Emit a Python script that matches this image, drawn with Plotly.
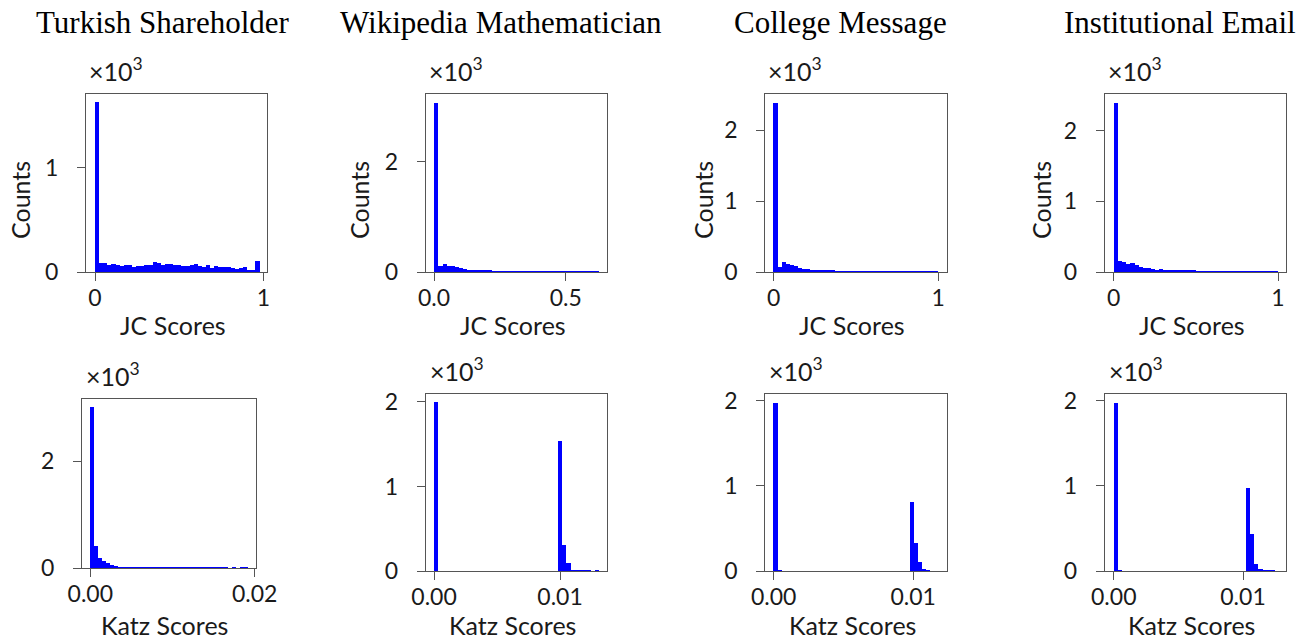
import numpy as np
import plotly.graph_objects as go

# ---------------- data ----------------
dataset_titles = ["Turkish Shareholder", "Wikipedia Mathematician", "College Message", "Institutional Email"]

# JC score histograms (40 bins each)
jc_bin_range = [[0.0, 0.978], [0.0, 0.627], [0.0, 1.0], [0.0, 1.0]]
jc_turkish = [1623, 85, 80, 62, 70, 65, 51, 67, 60, 45, 51, 51, 64, 64, 96, 83, 61, 77, 77, 67,
              67, 58, 58, 67, 77, 51, 45, 61, 35, 51, 42, 48, 48, 32, 26, 35, 48, 13, 15, 105]
jc_wiki = [3062, 97, 145, 109, 109, 85, 66, 40, 30, 30, 25, 25, 18, 15, 10, 8, 12, 6, 5, 5,
           6, 4, 5, 3, 4, 6, 3, 3, 5, 3, 3, 2, 4, 3, 2, 5, 2, 3, 2, 4]
jc_college = [2387, 61, 132, 104, 89, 75, 55, 42, 33, 28, 19, 14, 14, 10, 10, 7, 6, 5, 8, 4,
              5, 3, 6, 4, 3, 2, 3, 4, 2, 2, 3, 2, 2, 3, 2, 2, 1, 2, 1, 3]
jc_institutional = [2391, 150, 132, 108, 118, 89, 71, 47, 52, 33, 24, 33, 19, 24, 14, 14, 10, 10, 14, 14,
                    5, 6, 4, 7, 5, 4, 6, 3, 3, 4, 2, 3, 2, 2, 3, 1, 2, 1, 1, 3]

# Katz score histograms (40 bins each)
katz_bin_range = [[0.0, 0.0192], [0.0, 0.0131], [0.0, 0.01185], [0.0, 0.01277]]
katz_turkish = [3020, 410, 190, 120, 80, 44, 25, 12, 8, 6, 5, 4, 4, 3, 3, 3, 2, 2, 2, 2,
                2, 2, 1, 1, 2, 1, 1, 1, 1, 1, 1, 1, 1, 1, 1, 0, 1, 0, 1, 1]
katz_wiki = [2000, 0, 0, 0, 0, 0, 0, 0, 0, 0, 0, 0, 0, 0, 0, 0, 0, 0, 0, 0,
             0, 0, 0, 0, 0, 0, 0, 0, 0, 0, 1540, 316, 98, 20, 12, 8, 5, 5, 3, 8]
katz_college = [1980, 8, 0, 0, 0, 0, 0, 0, 0, 0, 0, 0, 0, 0, 0, 0, 0, 0, 0, 0,
                0, 0, 0, 0, 0, 0, 0, 0, 0, 0, 0, 0, 0, 810, 329, 106, 25, 6, 3, 3]
katz_institutional = [1980, 6, 0, 0, 0, 0, 0, 0, 0, 0, 0, 0, 0, 0, 0, 0, 0, 0, 0, 0,
                      0, 0, 0, 0, 0, 0, 0, 0, 0, 0, 0, 0, 974, 438, 86, 23, 10, 5, 4, 3]

jc_xticks = [[0, 1], [0.0, 0.5], [0, 1], [0, 1]]
jc_xticktext = [["0", "1"], ["0.0", "0.5"], ["0", "1"], ["0", "1"]]
jc_yticks = [[0, 1000], [0, 2000], [0, 1000, 2000], [0, 1000, 2000]]
katz_xticks = [[0.0, 0.02], [0.0, 0.01], [0.0, 0.01], [0.0, 0.01]]
katz_xticktext = [["0.00", "0.02"], ["0.00", "0.01"], ["0.00", "0.01"], ["0.00", "0.01"]]
katz_yticks = [[0, 2000], [0, 1000, 2000], [0, 1000, 2000], [0, 1000, 2000]]

# ---------------- layout constants (pixels) ----------------
W, H = 1316, 641
top_boxes = [(86, 267, 94.3, 272), (425.7, 607.3, 94.3, 272), (765.3, 947, 94.3, 272), (1104.7, 1286.3, 94.3, 272)]
bot_boxes = [(82, 255.7, 399.3, 568), (425.7, 607.3, 393.7, 571), (765.3, 947, 393.7, 571), (1104.7, 1286.3, 393.7, 571)]
jc_xrange = [[-0.0535, 1.022], [-0.0315, 0.658], [-0.051, 1.053], [-0.0548, 1.0505]]
jc_yrange = [[0, 1704], [0, 3222], [0, 2510], [0, 2513]]
katz_xrange = [[-0.00101, 0.02012], [-0.00066, 0.01375], [-0.0006, 0.01243], [-0.0007, 0.01335]]
katz_yrange = [[0, 3165], [0, 2098], [0, 2081], [0, 2081]]

BLUE = "#0000FF"
AX = "#555555"
TXT = "#1a1a1a"
SANS = "Lato, 'Open Sans', sans-serif"
SERIF = "'Liberation Serif', 'Times New Roman', serif"

fig = go.Figure()
layout = dict(width=W, height=H, margin=dict(l=0, r=0, t=0, b=0, pad=0, autoexpand=False),
              template="none",
              plot_bgcolor="white", paper_bgcolor="white", showlegend=False,
              bargap=0, barmode="overlay")
annotations = []


def px_x(v):
    return v / W


def px_y(v):
    return 1 - v / H


def add_panel(idx, counts, brange, box, xr, yr, xt, xtt, yt):
    lo, hi = brange
    n = len(counts)
    edges = np.linspace(lo, hi, n + 1)
    centers = (edges[:-1] + edges[1:]) / 2
    width = edges[1] - edges[0]
    sfx = "" if idx == 1 else str(idx)
    fig.add_trace(go.Bar(x=centers, y=counts, width=width, marker=dict(color=BLUE, line=dict(width=0)),
                         xaxis="x" + sfx, yaxis="y" + sfx, hoverinfo="x+y"))
    x0, x1, y0, y1 = box
    common = dict(showline=True, mirror=True, linecolor=AX, linewidth=1, ticks="outside", ticklen=8,
                  tickwidth=1, tickcolor=AX, showgrid=False, zeroline=False, automargin=False,
                  tickfont=dict(family=SANS, size=23, color=TXT))
    layout["xaxis" + sfx] = dict(common, domain=[px_x(x0), px_x(x1)], anchor="y" + sfx, range=xr,
                                 tickvals=xt, ticktext=xtt, ticklabelstandoff=-3)
    layout["yaxis" + sfx] = dict(common, domain=[px_y(y1), px_y(y0)], anchor="x" + sfx, range=yr,
                                 tickvals=yt, ticktext=[str(int(v / 1000)) for v in yt],
                                 ticklabelstandoff=14)


for i in range(4):
    add_panel(i + 1, [jc_turkish, jc_wiki, jc_college, jc_institutional][i], jc_bin_range[i], top_boxes[i],
              jc_xrange[i], jc_yrange[i], jc_xticks[i], jc_xticktext[i], jc_yticks[i])
for i in range(4):
    add_panel(i + 5, [katz_turkish, katz_wiki, katz_college, katz_institutional][i], katz_bin_range[i],
              bot_boxes[i], katz_xrange[i], katz_yrange[i], katz_xticks[i], katz_xticktext[i], katz_yticks[i])


def ann(text, x, y, size, family=SANS, xanchor="center", angle=0, color=TXT):
    annotations.append(dict(text=text, x=px_x(x), y=px_y(y), xref="paper", yref="paper", showarrow=False,
                            xanchor=xanchor, yanchor="middle", textangle=angle,
                            font=dict(family=family, size=size, color=color)))


title_x = [162.5, 501, 840, 1180]
counts_x = [20, 359, 703, 1041]
for i in range(4):
    ann(dataset_titles[i], title_x[i], 23, 31, family=SERIF, color="black")
    ann("Counts", counts_x[i], 200, 25, angle=-90)
    tb = top_boxes[i]
    ann("JC Scores", (tb[0] + tb[1]) / 2 - 4, 325, 25)
    ann("×10<sup>3</sup>", tb[0] + 1, 69, 25, xanchor="left")
    bb = bot_boxes[i]
    ann("Katz Scores", (bb[0] + bb[1]) / 2 - 4, 625, 25)
    ann("×10<sup>3</sup>", bb[0] + 2, 374 if i == 0 else 369, 25, xanchor="left")

layout["annotations"] = annotations
fig.update_layout(**layout)
fig.write_html("out.html", config={"displayModeBar": False},
               post_script="document.body.style.margin='0px';document.body.style.padding='0px';")
